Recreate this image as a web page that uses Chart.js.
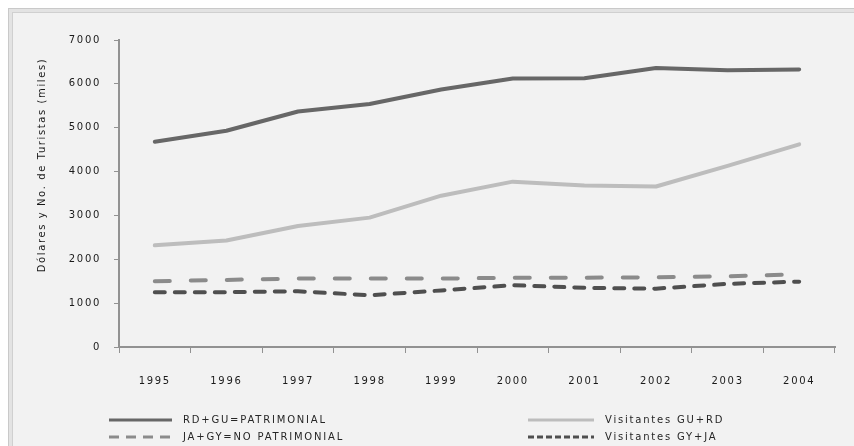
<!DOCTYPE html>
<html>
<head>
<meta charset="utf-8">
<script src="https://cdn.jsdelivr.net/npm/chart.js@4/dist/chart.umd.min.js"></script>
<style>
  html, body { margin:0; padding:0; background:#ffffff; width:854px; height:446px; overflow:hidden; }
  #frame { position:absolute; left:8px; top:8px; width:900px; height:500px; background:#f2f2f2;
           border:1px solid #c9c9c9; box-shadow: inset 0 0 0 3px #e3e3e3, inset 0 0 0 4px #d0d0d0; }
  #wrap { position:absolute; left:0; top:0; width:854px; height:446px; }
  .leg { position:absolute; font-family:"DejaVu Sans", sans-serif; font-size:10px; letter-spacing:1.8px;
         color:#262626; white-space:nowrap; line-height:12px; }
</style>
</head>
<body>
<div id="frame"></div>
<div id="wrap"><canvas id="c" width="854" height="446"></canvas></div>
<div id="legend"></div>
<script>
const years = ['1995','1996','1997','1998','1999','2000','2001','2002','2003','2004'];
const patrimonial    = [4680, 4930, 5370, 5540, 5870, 6120, 6130, 6360, 6310, 6330];
const visitGURD      = [2320, 2430, 2760, 2950, 3450, 3770, 3680, 3660, 4130, 4620];
const noPatrimonial  = [1500, 1530, 1560, 1560, 1560, 1580, 1580, 1590, 1610, 1660];
const visitGYJA      = [1250, 1250, 1270, 1180, 1290, 1410, 1350, 1330, 1440, 1490];
const yTicks = [0, 1000, 2000, 3000, 4000, 5000, 6000, 7000];
const seriesNames = ['RD+GU=PATRIMONIAL', 'Visitantes GU+RD', 'JA+GY=NO PATRIMONIAL', 'Visitantes GY+JA'];
const yTitle = 'Dólares y No. de Turistas (miles)';

const FONT = '"DejaVu Sans", sans-serif';
const AXIS = '#929292';
const SP = '1.7px';

const spacing = {
  id: 'spacing',
  beforeInit(c){ c.ctx.letterSpacing = SP; },
  beforeUpdate(c){ c.ctx.letterSpacing = SP; },
  beforeLayout(c){ c.ctx.letterSpacing = SP; },
  beforeDraw(c){ c.ctx.letterSpacing = SP; }
};

// y-axis title drawn rotated at the position it has in the reference
const yTitlePlugin = {
  id: 'yTitlePlugin',
  afterDraw(c){
    const ctx = c.ctx;
    ctx.save();
    ctx.letterSpacing = '1.6px';
    ctx.font = '10px ' + FONT;
    ctx.fillStyle = '#1a1a1a';
    ctx.textAlign = 'center';
    ctx.textBaseline = 'middle';
    const yCenter = c.scales.y.getPixelForValue(4150);
    ctx.translate(42, yCenter);
    ctx.rotate(-Math.PI / 2);
    ctx.fillText(yTitle, 0, 0);
    ctx.restore();
  }
};

const chart = new Chart(document.getElementById('c'), {
  type: 'line',
  data: {
    labels: years,
    datasets: [
      { label: seriesNames[0], data: patrimonial, borderColor:'#676767', borderWidth:4, borderCapStyle:'round', borderJoinStyle:'round' },
      { label: seriesNames[1], data: visitGURD, borderColor:'#bdbdbd', borderWidth:4, borderCapStyle:'round', borderJoinStyle:'round' },
      { label: seriesNames[2], data: noPatrimonial, borderColor:'#8b8b8b', borderWidth:4, borderDash:[15,21], borderCapStyle:'round' },
      { label: seriesNames[3], data: visitGYJA, borderColor:'#4f4f4f', borderWidth:4, borderDash:[10,10], borderCapStyle:'round' }
    ]
  },
  options: {
    responsive:false, animation:false, devicePixelRatio:1,
    elements:{ point:{ radius:0, hoverRadius:0 }, line:{ tension:0, fill:false } },
    layout:{ padding:{ left:30, top:40, right:19, bottom:0 } },
    plugins:{ legend:{ display:false }, tooltip:{ enabled:false } },
    scales:{
      x:{
        type:'category', offset:true,
        grid:{ offset:true, drawOnChartArea:false, drawTicks:true, tickLength:6, color:AXIS, lineWidth:1 },
        border:{ color:AXIS, width:2 },
        ticks:{ font:{ family:FONT, size:10 }, color:'#1a1a1a', padding:22, maxRotation:0, autoSkip:false },
        afterFit(s){ s.height = 99; }
      },
      y:{
        min:0, max:7000,
        afterBuildTicks(s){ s.ticks = yTicks.map(v => ({ value:v })); },
        grid:{ drawOnChartArea:false, drawTicks:true, tickLength:5, color:AXIS, lineWidth:1 },
        border:{ color:AXIS, width:2 },
        ticks:{ font:{ family:FONT, size:10 }, color:'#1a1a1a', padding:13, callback:(v) => String(v) },
        afterFit(s){ s.width = 89; }
      }
    }
  },
  plugins:[spacing, yTitlePlugin]
});

// HTML legend in two columns, built from the chart's datasets
const legendPos = [
  { lx:109, tx:183, y:420 },
  { lx:528, tx:605, y:420 },
  { lx:109, tx:183, y:437 },
  { lx:528, tx:605, y:437 }
];
const legendDash = [null, null, '10 7', '6 3'];
const legendEl = document.getElementById('legend');
chart.data.datasets.forEach((ds, i) => {
  const p = legendPos[i];
  const w = p.tx - p.lx - 11;
  const line = document.createElementNS('http://www.w3.org/2000/svg','svg');
  line.setAttribute('width', w); line.setAttribute('height', 4);
  line.style.left = p.lx + 'px'; line.style.top = (p.y - 2) + 'px';
  line.style.position = 'absolute';
  line.innerHTML = '<line x1="0" y1="2" x2="' + w + '" y2="2" stroke="' + ds.borderColor + '" stroke-width="3"' +
                   (legendDash[i] ? ' stroke-dasharray="' + legendDash[i] + '"' : '') + '/>';
  legendEl.appendChild(line);
  const t = document.createElement('div');
  t.className = 'leg';
  t.textContent = ds.label;
  t.style.left = p.tx + 'px'; t.style.top = (p.y - 6) + 'px';
  legendEl.appendChild(t);
});
</script>
</body>
</html>
